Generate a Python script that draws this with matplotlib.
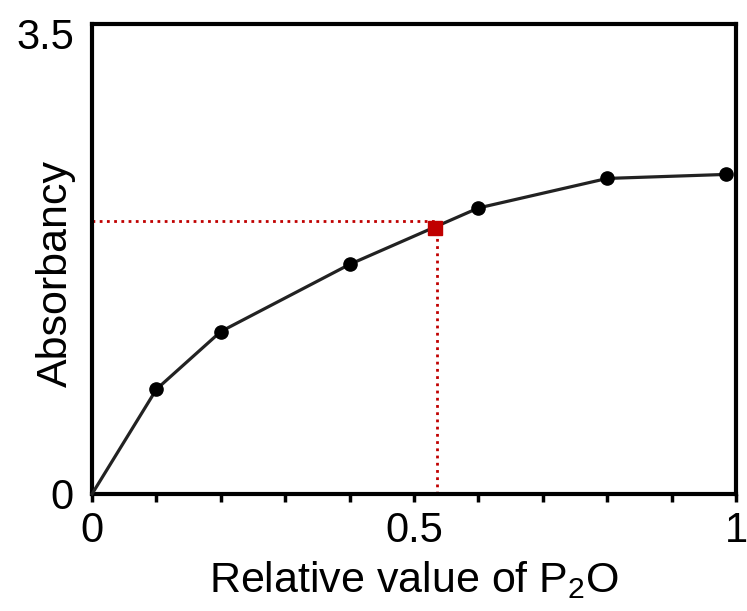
import numpy as np
import matplotlib
matplotlib.use("Agg")
import matplotlib.pyplot as plt

# data
p2o = [0.0, 0.1, 0.2, 0.4, 0.6, 0.8, 0.985]
absorbancy = [0.0, 0.78, 1.21, 1.71, 2.13, 2.35, 2.38]

sample_x = 0.533
sample_y = 1.98
guide_x = 0.535
guide_y = 2.03

y_ticks = [0, 3.5]
y_ticklabels = ["0", "3.5"]

plt.rcParams["font.family"] = ["Liberation Sans", "DejaVu Sans"]
plt.rcParams["mathtext.fontset"] = "custom"
plt.rcParams["mathtext.rm"] = "Liberation Sans"
plt.rcParams["mathtext.it"] = "Liberation Sans:italic"

fig = plt.figure(figsize=(7.47, 6.11), dpi=100)
ax = fig.add_axes([0.1232, 0.1915, 0.8621, 0.7692])

# red dotted guides to the sample point
dot = (0, (1, 1.6))
ax.plot([0, guide_x], [guide_y, guide_y], color="#c00000", lw=2, linestyle=dot, clip_on=False)
ax.plot([guide_x, guide_x], [0, guide_y], color="#c00000", lw=2, linestyle=dot, clip_on=False)

# calibration curve
ax.plot(p2o[1:], absorbancy[1:], color="black", marker="o", markersize=9.5, lw=0, clip_on=False, zorder=4)
ax.plot(p2o, absorbancy, color="#222222", lw=2.3, clip_on=False, zorder=3)
ax.plot([sample_x], [sample_y], marker="s", color="#c00000", markersize=10, lw=0, zorder=5)

ax.set_xlim(0, 1)
ax.set_ylim(0, 3.5)
ax.set_xticks([0, 0.5, 1])
ax.set_xticklabels(["0", "0.5", "1"])
ax.set_xticks(np.arange(0, 1.01, 0.1), minor=True)
ax.set_yticks(y_ticks)
ax.set_yticklabels([])

ax.tick_params(axis="x", which="both", direction="out", length=6, width=2.5, labelsize=30, pad=6)
ax.tick_params(axis="y", length=0)

# y labels sit a little off their ticks in the reference
for v, lab in zip(y_ticks, y_ticklabels):
    ax.annotate(lab, xy=(0, v), xycoords=("axes fraction", "data"),
                xytext=(-13, -7 if v else 0), textcoords="offset points",
                ha="right", va="center_baseline", fontsize=30)

for s in ax.spines.values():
    s.set_linewidth(3)

ax.set_xlabel("Relative value of P$_\\mathrm{2}$O", fontsize=31, labelpad=6)
ax.set_ylabel("Absorbancy", fontsize=31)
ax.yaxis.set_label_coords(-0.025, 0.47)

fig.savefig("out.png", dpi=100)
